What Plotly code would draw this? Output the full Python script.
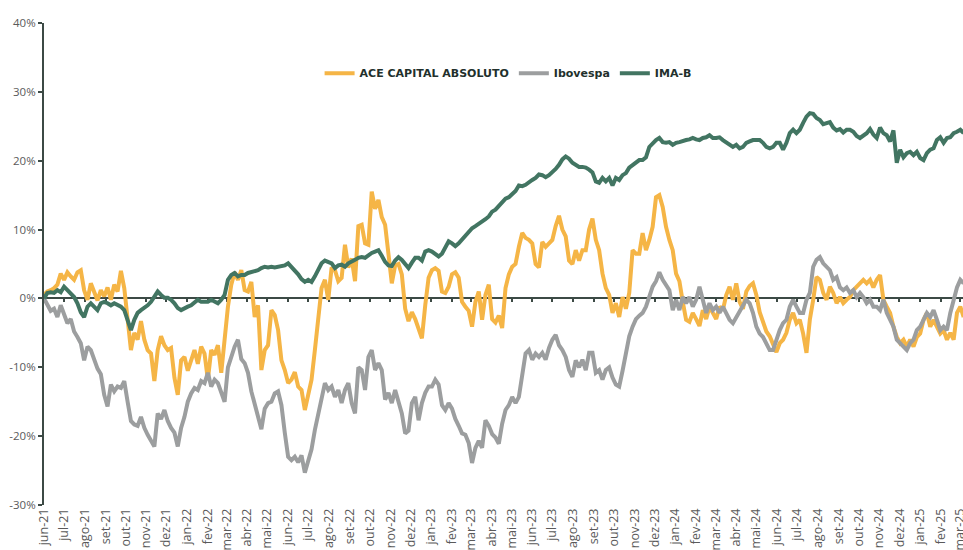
import pandas as pd
import plotly.graph_objects as go

# ---- data (cumulative return, %) sampled every 5 calendar days from 2021-06-01 ----
start_date = "2021-06-01"
step = "5D"

ace_capital = [
    0.5, 1.0, 1.2, 1.5, 2.0, 3.6, 2.7, 3.8, 3.2, 2.7,
    3.8, 4.1, 1.2, -0.2, 2.2, 1.0, -0.3, 1.2, 0.3, 1.6,
    -0.2, 2.0, 1.0, 4.0, 1.5, -3.0, -7.5, -5.0, -6.0, -3.3,
    -6.0, -7.5, -8.0, -12.0, -7.5, -5.5, -6.8, -7.5, -7.2, -11.5,
    -14.0, -9.0, -8.5, -10.5, -9.0, -7.5, -9.5, -7.0, -8.0, -11.8,
    -7.5, -8.2, -6.8, -10.8, -6.0, -1.2, 2.0, 3.8, 2.7, 4.1,
    1.2, 1.0, 2.4, -2.7, -1.0, -10.4, -7.5, -6.8, -1.7, -2.4,
    -4.6, -9.0, -10.4, -12.3, -11.8, -10.7, -12.8, -13.3, -16.2, -14.0,
    -11.8, -7.5, -3.0, 1.5, 2.7, -0.2, 4.5, 4.1, 2.5, 3.0,
    7.8, 4.5, 5.8, 2.5, 10.5, 10.7, 8.0, 7.8, 15.5, 13.0,
    14.3, 11.8, 10.7, 6.5, 2.2, 4.8, 5.0, 3.5, -1.5, -3.3,
    -2.0, -3.0, -4.6, -5.8, -1.0, 3.0, 4.1, 4.4, 4.0, 1.0,
    0.8, 1.7, 3.5, 3.8, 3.0, -0.5, -1.2, -1.8, -4.1, -0.5,
    1.0, -3.1, 0.5, 2.0, -3.0, -3.5, -2.5, -4.3, 1.5, 3.5,
    4.6, 5.0, 7.5, 9.5, 8.8, 8.5, 8.0, 5.0, 4.5, 8.2,
    7.5, 8.0, 8.5, 10.5, 12.0, 10.0, 9.0, 5.5, 5.0, 7.0,
    5.5, 7.0, 7.0, 10.0, 11.6, 8.5, 7.0, 3.6, 1.5, 0.5,
    -2.1, -0.7, -2.7, 0.2, -1.5, 0.8, 7.0, 6.5, 6.5, 9.5,
    7.0, 8.5, 10.4, 14.7, 15.0, 13.3, 10.4, 8.5, 7.0, 3.6,
    2.5, -0.5, -3.1, -3.4, -2.1, -3.0, -4.0, -1.7, -3.0, -1.2,
    -2.1, -3.0, -1.2, -1.7, 0.5, 1.7, -0.2, 2.2, -0.5, -1.5,
    1.0, 1.8, 2.2, 0.5, -2.0, -3.5, -4.8, -5.5, -6.8, -7.8,
    -6.5, -6.0, -5.0, -3.1, -2.1, -3.6, -3.1, -5.1, -7.9, -3.1,
    -0.2, 3.1, 2.7, 0.8, -0.2, 1.7, 0.8, -0.7, 0.2, -0.7,
    -0.2, 0.2, 1.2, 1.7, 2.2, 2.7, 2.2, 2.7, 1.6, 2.7,
    3.4, -0.2, -1.2, -2.1, -4.1, -5.6, -6.5, -6.0, -7.0, -6.0,
    -7.0, -5.6, -5.1, -3.1, -2.1, -4.1, -3.1, -4.1, -5.1, -4.6,
    -6.0, -5.0, -6.0, -2.1, -1.2, -2.7,
]

ibovespa = [
    0.0, -1.0, -1.8, -1.5, -2.7, -1.0, -2.5, -3.6, -3.0, -4.8,
    -5.6, -6.5, -9.0, -7.0, -7.5, -9.0, -10.2, -11.0, -14.0, -15.7,
    -12.5, -13.5, -12.8, -13.0, -12.0, -15.0, -17.8, -18.3, -18.5, -17.2,
    -18.8, -19.8, -20.7, -21.5, -16.7, -17.5, -16.2, -17.8, -18.8, -19.5,
    -21.5, -18.8, -17.2, -15.0, -13.8, -13.0, -13.3, -12.0, -12.3, -10.8,
    -12.8, -11.8, -12.3, -13.8, -15.0, -10.0, -8.5, -7.0, -6.0, -8.8,
    -9.4, -10.8, -13.5, -15.5, -17.5, -19.0, -16.0, -15.2, -15.0, -13.8,
    -13.5, -15.5, -19.5, -23.0, -23.5, -23.0, -23.8, -22.8, -25.3, -23.4,
    -21.9, -19.1, -16.7, -14.3, -12.3, -13.3, -12.8, -14.3, -13.3, -15.2,
    -13.3, -12.3, -15.2, -16.7, -10.0, -10.4, -13.3, -8.5, -7.5, -10.4,
    -9.4, -10.4, -14.7, -13.7, -15.2, -13.3, -15.2, -16.7, -19.6, -19.2,
    -15.2, -14.3, -17.7, -15.2, -13.7, -12.8, -12.8, -11.8, -12.5, -15.5,
    -16.2, -15.2, -16.0, -17.5, -18.5, -19.6, -19.8, -21.0, -23.9, -21.7,
    -20.7, -21.7, -17.7, -18.5, -19.7, -20.2, -21.1, -18.2, -16.2, -15.5,
    -14.3, -15.2, -14.3, -10.8, -8.0, -7.5, -8.9, -8.0, -8.5, -7.9,
    -8.9, -7.2, -6.0, -5.3, -6.8, -7.5, -8.5, -10.4, -11.4, -9.0,
    -10.0, -8.9, -10.4, -7.9, -7.9, -10.8, -10.4, -11.8, -10.4, -10.0,
    -11.5, -12.5, -12.8, -10.5, -8.0, -5.5, -4.1, -3.0, -2.5, -2.1,
    -1.2, 0.5, 1.7, 2.5, 3.8, 2.7, 1.8, 1.2, -1.7, -0.2,
    -1.7, 0.2, -0.7, 0.2, -1.2, -0.2, 1.7, -0.2, -2.1, -0.7,
    -1.7, -1.2, -2.1, -1.2, -2.1, -3.1, -3.6, -2.7, -2.1, -1.2,
    -0.2, -0.7, -2.1, -4.1, -5.1, -5.6, -6.5, -7.5, -7.5, -6.0,
    -4.6, -3.6, -3.1, -1.2, -0.2, -1.2, -2.1, -2.1, -0.2, 0.8,
    4.6, 5.6, 6.0, 5.1, 4.6, 4.1, 2.7, 3.1, 1.6, 1.2,
    1.6, 0.8, 1.2, 0.2, 0.8, 0.2, -0.7, -0.2, -1.2, -1.2,
    -1.7, -0.2, -2.1, -3.1, -4.1, -6.0, -6.5, -7.1, -7.5, -6.5,
    -6.0, -4.6, -4.1, -3.1, -2.1, -2.7, -1.7, -3.1, -4.6, -4.1,
    -4.6, -2.1, -0.2, 1.6, 2.7, 2.2,
]

ima_b = [
    0.0, 0.8, 0.9, 0.8, 1.2, 0.9, 1.7, 1.2, 0.8, 0.2,
    -0.7, -2.0, -2.7, -1.2, -0.7, -1.2, -1.7, -0.7, -0.5, -0.7,
    -1.0, -0.7, -1.0, -1.2, -1.7, -3.1, -4.6, -3.1, -2.1, -1.7,
    -1.4, -1.0, -0.5, 0.2, 1.0, 0.5, 0.1, 0.1, -0.2, -0.7,
    -1.4, -1.7, -1.4, -1.2, -1.0, -0.5, -0.2, -0.5, -0.5, -0.5,
    -0.2, -0.5, -0.7, -0.2, 0.5, 2.7, 3.4, 3.7, 3.2, 3.4,
    3.4, 3.7, 3.8, 4.0, 4.1, 4.4, 4.6, 4.5, 4.6, 4.5,
    4.6, 4.8, 4.8, 5.1, 4.6, 4.1, 3.5, 2.8, 2.4, 2.7,
    2.4, 3.2, 4.3, 5.1, 5.5, 5.3, 5.1, 4.4, 4.8, 4.9,
    4.6, 5.1, 5.3, 5.6, 5.9, 6.0, 5.9, 6.3, 6.6, 6.8,
    7.0, 6.2, 5.3, 4.8, 4.7, 5.5, 6.0, 5.6, 4.9, 4.4,
    5.2, 5.9, 5.9, 5.5, 6.8, 7.0, 6.8, 6.5, 6.1, 6.5,
    7.5, 8.3, 8.0, 7.6, 8.0, 8.6, 9.0, 9.7, 10.2, 10.5,
    10.8, 11.1, 11.5, 11.9, 12.6, 12.9, 13.4, 13.9, 14.5, 14.7,
    15.1, 15.6, 16.4, 16.3, 16.5, 16.9, 17.2, 17.5, 18.0, 17.9,
    17.6, 17.9, 18.3, 18.8, 19.4, 20.2, 20.6, 20.3, 19.7, 19.4,
    19.1, 19.1, 19.0, 18.7, 18.3, 17.0, 16.8, 17.5, 17.0, 17.5,
    16.4, 17.5, 17.2, 17.9, 18.2, 19.0, 19.4, 19.7, 20.1, 20.1,
    20.5, 22.0, 22.6, 23.0, 23.3, 22.7, 22.6, 22.7, 22.3, 22.6,
    22.7, 22.9, 23.0, 23.1, 23.3, 23.1, 23.0, 23.3, 23.4, 23.7,
    23.3, 23.3, 23.4, 23.0, 22.7, 22.3, 22.0, 22.3, 21.8, 22.0,
    22.6, 22.8, 23.0, 23.0, 23.0, 22.6, 22.0, 21.8, 22.0, 22.6,
    22.6, 21.6, 22.6, 24.0, 24.5, 24.0, 24.5, 25.5, 26.4, 26.9,
    26.8, 26.2, 25.9, 25.3, 25.4, 25.6, 24.8, 24.4, 24.6, 24.1,
    24.5, 24.5, 24.2, 23.6, 23.3, 23.7, 24.0, 24.6, 23.8, 23.3,
    24.8, 24.0, 23.7, 22.8, 24.4, 19.7, 21.6, 20.5, 21.1, 21.3,
    20.8, 21.3, 20.4, 20.1, 21.1, 21.6, 21.8, 23.0, 23.4, 22.6,
    23.3, 23.4, 24.0, 24.2, 24.5, 24.0,
]

series_names = ["ACE CAPITAL ABSOLUTO", "Ibovespa", "IMA-B"]
series_colors = ["#F5B546", "#9C9E9F", "#427562"]

month_labels = [
    "jun-21", "jul-21", "ago-21", "set-21", "out-21", "nov-21", "dez-21",
    "jan-22", "fev-22", "mar-22", "abr-22", "mai-22", "jun-22", "jul-22",
    "ago-22", "set-22", "out-22", "nov-22", "dez-22",
    "jan-23", "fev-23", "mar-23", "abr-23", "mai-23", "jun-23", "jul-23",
    "ago-23", "set-23", "out-23", "nov-23", "dez-23",
    "jan-24", "fev-24", "mar-24", "abr-24", "mai-24", "jun-24", "jul-24",
    "ago-24", "set-24", "out-24", "nov-24", "dez-24",
    "jan-25", "fev-25", "mar-25",
]

y_ticks = [-30, -20, -10, 0, 10, 20, 30, 40]
y_tick_text = ["-30%", "-20%", "-10%", "0%", "10%", "20%", "30%", "40%"]

# ---- figure ----
tick_dates = pd.date_range(start_date, periods=len(month_labels), freq="MS")
axis_color = "#3C4A45"
label_color = "#5A5A5A"

fig = go.Figure()
for name, vals, color in zip(series_names, [ace_capital, ibovespa, ima_b], series_colors):
    dates = pd.date_range(start_date, periods=len(vals), freq=step)
    fig.add_trace(go.Scatter(
        x=dates, y=vals, name=name, mode="lines",
        line=dict(color=color, width=4),
    ))

# helper trace to attach the zero-crossing date axis
fig.add_trace(go.Scatter(x=[tick_dates[0]], y=[0], xaxis="x2", mode="none",
                         showlegend=False, hoverinfo="skip"))

x_end = pd.Timestamp("2025-03-06")
fig.update_layout(
    width=963, height=550,
    margin=dict(l=44, r=0, t=23, b=45, autoexpand=False),
    paper_bgcolor="white", plot_bgcolor="white",
    font=dict(family="Open Sans", size=11, color=label_color),
    showlegend=True,
    legend=dict(
        orientation="h", x=0.505, xanchor="center", y=0.896, yanchor="middle",
        font=dict(family="DejaVu Sans", size=11, color="#22302C", weight="bold"),
        itemwidth=30, bgcolor="rgba(0,0,0,0)", traceorder="normal",
    ),
    xaxis=dict(
        type="date", range=[pd.Timestamp(start_date), x_end],
        tickvals=tick_dates, ticktext=month_labels, tickangle=-90,
        showgrid=False, zeroline=False, showline=False, ticks="",
        tickfont=dict(family="Open Sans", size=12.5, color=label_color),
        automargin=False, ticklabeloverflow="allow",
    ),
    xaxis2=dict(
        type="date", overlaying="x", anchor="free", position=30 / 70,
        range=[pd.Timestamp(start_date), x_end],
        tickvals=tick_dates, showticklabels=False, ticks="outside", ticklen=3,
        tickwidth=1.5, tickcolor=axis_color,
        showline=True, linecolor=axis_color, linewidth=2, showgrid=False,
        zeroline=False, layer="below traces", automargin=False,
    ),
    yaxis=dict(
        range=[-30, 40], tickvals=y_ticks, ticktext=y_tick_text,
        showgrid=False, zeroline=False, showline=True, linecolor=axis_color,
        linewidth=2, ticks="outside", ticklen=4, tickwidth=1.5, tickcolor=axis_color,
        tickfont=dict(family="Open Sans", size=11.5, color=label_color),
        automargin=False,
    ),
)

fig.write_html(
    "out.html",
    config={"displayModeBar": False},
    post_script="document.body.style.margin='0';document.body.style.overflow='hidden';",
)
